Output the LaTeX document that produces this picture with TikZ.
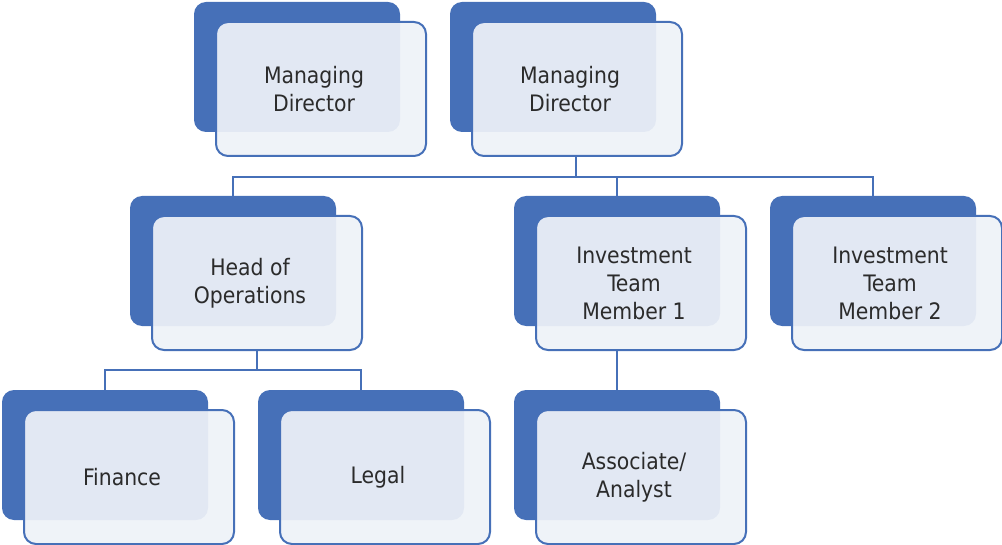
\documentclass[tikz,border=0pt]{standalone}
\usepackage{fontspec}
\setmainfont{DejaVu Sans Condensed}
\definecolor{bl}{HTML}{4670B8}
\definecolor{fr}{HTML}{EEF2F8}
\definecolor{tx}{HTML}{2B2B2B}
\begin{document}
\begin{tikzpicture}[x=0.75pt,y=-0.75pt,
  back/.style={fill=bl,draw=none,rounded corners=9pt},
  front/.style={fill=fr,fill opacity=0.93,draw=bl,line width=1.5pt,rounded corners=9pt},
  lbl/.style={text=tx,font=\fontsize{17}{21}\selectfont,align=center},
  conn/.style={draw=bl,line width=1.5pt}]
\useasboundingbox (0,0) rectangle (1002,545);
\newcommand{\unit}[4]{%
  \fill[back] (#2,#3) rectangle ++(206,130);
  \coordinate (#1t) at (#2+103,#3);
  \draw[front] (#2+22,#3+20) rectangle ++(210,134);
  \coordinate (#1b) at (#2+103,#3+154);
  \coordinate (#1fb) at (#2+127,#3+154);
  \node[lbl] (#1) at (#2+120,#3+87) {#4};}
\unit{md1}{194}{2}{Managing\\Director}
\unit{md2}{450}{2}{Managing\\Director}
\unit{ho}{130}{196}{Head of\\Operations}
\unit{it1}{514}{196}{Investment\\Team\\Member 1}
\unit{it2}{770}{196}{Investment\\Team\\Member 2}
\unit{fi}{2}{390}{Finance}
\unit{le}{258}{390}{Legal}
\unit{as}{514}{390}{Associate/\\Analyst}
\coordinate (j1) at (576,177);
\draw[conn] (576,156) -- (j1);
\draw[conn] (hot) -- (hot|-j1) -- (it2t|-j1) -- (it2t);
\draw[conn] (it1t|-j1) -- (it1t);
\coordinate (j2) at (257,370);
\draw[conn] (hofb) -- (j2);
\draw[conn] (fit) -- (fit|-j2) -- (let|-j2) -- (let);
\draw[conn] (it1b) -- (ast);
\end{tikzpicture}
\end{document}
